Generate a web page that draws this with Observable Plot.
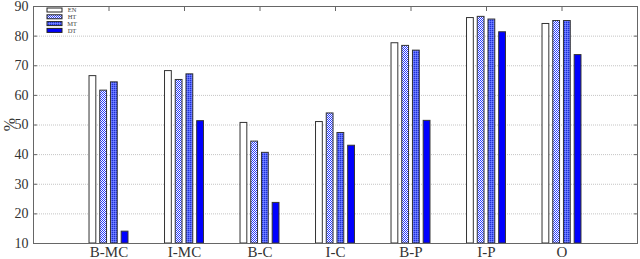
<!DOCTYPE html>
<html><head><meta charset="utf-8">
<script src="https://cdn.jsdelivr.net/npm/d3@7"></script>
<script src="https://cdn.jsdelivr.net/npm/@observablehq/plot@0.6"></script>
<style>
body{margin:0;background:#fff}
#chart svg{font-family:"Liberation Serif","DejaVu Serif",serif;background:#fff}
</style>
</head><body><div id="chart"></div>
<script>
const categories = ["B-MC","I-MC","B-C","I-C","B-P","I-P","O"];
const series = ["EN","HT","MT","DT"];
const EN = [66.5,68.2,50.7,51.0,77.6,86.1,84.1];
const HT = [61.6,65.2,44.4,53.9,76.7,86.5,85.1];
const MT = [64.4,67.1,40.6,47.3,75.1,85.6,85.1];
const DT = [14.0,51.3,23.7,43.0,51.4,81.3,73.6];
const yTicks = [10,20,30,40,50,60,70,80,90];
const yLabel = "%";
const seriesFill = ["#ffffff","url(#pat-ht)","url(#pat-mt)","#0000ff"];

const values = [EN, HT, MT, DT];
const pitch = 0.142, half = 0.045;
const data = [];
categories.forEach((c, i) => series.forEach((s, j) => {
  const center = (i + 1) + (j - 1.5) * pitch;
  data.push({cat: c, series: s, x1: center - half, x2: center + half, y: values[j][i], fill: seriesFill[j]});
}));

function defsAndLegend(index, scales, vals, dims) {
  const g = d3.create("svg:g");
  const defs = g.append("defs");
  const ht = defs.append("pattern").attr("id","pat-ht").attr("patternUnits","userSpaceOnUse").attr("width",2).attr("height",2);
  ht.append("rect").attr("width",2).attr("height",2).attr("fill","#ffffff");
  ht.append("rect").attr("width",1).attr("height",1).attr("fill","#2a3cff");
  ht.append("rect").attr("x",1).attr("y",1).attr("width",1).attr("height",1).attr("fill","#2a3cff");
  const mt = defs.append("pattern").attr("id","pat-mt").attr("patternUnits","userSpaceOnUse").attr("width",2).attr("height",2);
  mt.append("rect").attr("width",2).attr("height",2).attr("fill","#5566ff");
  mt.append("rect").attr("width",1).attr("height",1).attr("fill","#2233cc");
  mt.append("rect").attr("x",1).attr("y",1).attr("width",1).attr("height",1).attr("fill","#7a88ff");
  const x0 = dims.marginLeft + 14, y0 = dims.marginTop + 2;
  series.forEach((s, j) => {
    const yy = y0 + j * 6.8;
    g.append("rect").attr("x", x0).attr("y", yy).attr("width", 15).attr("height", 4)
      .attr("fill", seriesFill[j]).attr("stroke", "#222").attr("stroke-width", 1);
    g.append("text").attr("x", x0 + 25).attr("y", yy + 2).attr("dy","0.35em")
      .attr("font-size", 6.5).attr("fill", "#444").text(s);
  });
  const cy = (dims.marginTop + dims.height - dims.marginBottom) / 2;
  g.append("text").attr("transform", `translate(9,${cy}) rotate(-90)`)
    .attr("text-anchor","middle").attr("dy","0.35em").attr("font-size", 16).attr("fill","#333").text(yLabel);
  return g.node();
}

const chart = Plot.plot({
  width: 640,
  height: 259,
  marginLeft: 33,
  marginRight: 3,
  marginTop: 6,
  marginBottom: 16,
  style: {background: "#fff", color: "#333"},
  x: {type: "linear", domain: [0, 8]},
  y: {domain: [10, 90]},
  color: {type: "identity"},
  marks: [
    Plot.gridY(yTicks, {stroke: "#c4c4c4", strokeOpacity: 1, strokeDasharray: "1,1"}),
    Plot.rectY(data, {x1: "x1", x2: "x2", y1: 10, y2: "y", fill: "fill", stroke: "#333", strokeWidth: 1}),
    Plot.axisY(yTicks, {anchor: "left", tickSize: -4, tickPadding: 9, fontSize: 14, label: null, stroke: "#666"}),
    Plot.axisY(yTicks, {anchor: "right", tickSize: -4, tickFormat: () => "", label: null, stroke: "#666"}),
    Plot.axisX(d3.range(1, 8), {anchor: "top", tickSize: -4, tickFormat: () => "", label: null, stroke: "#666"}),
    Plot.axisX(d3.range(1, 8), {anchor: "bottom", tickSize: 0, tickPadding: 3, fontSize: 15, tickFormat: i => categories[i - 1], label: null}),
    Plot.frame({stroke: "#666"}),
    defsAndLegend
  ]
});
document.getElementById("chart").append(chart);
</script>
</body></html>
